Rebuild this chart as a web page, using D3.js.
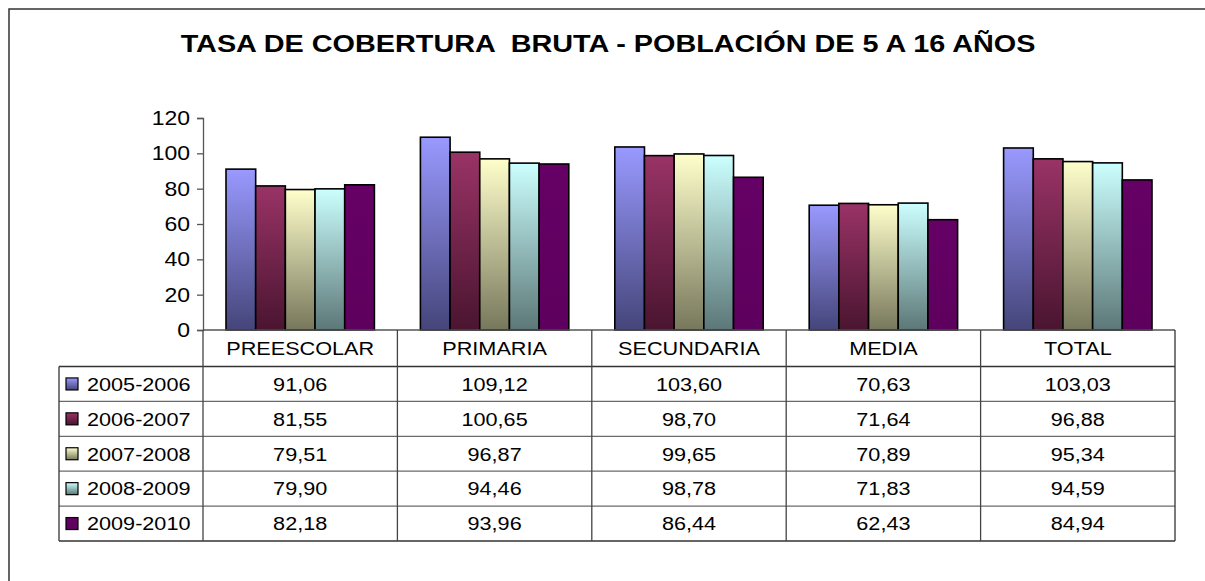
<!DOCTYPE html>
<html>
<head>
<meta charset="utf-8">
<script src="https://cdn.jsdelivr.net/npm/d3@7"></script>
<style>
  html, body { margin: 0; padding: 0; background: #fff; }
  svg { display: block; }
  text { font-family: "Liberation Sans", Arial, sans-serif; fill: #000; white-space: pre; }
</style>
</head>
<body>
<svg id="chart" width="1205" height="581"></svg>
<script>
const title = "TASA DE COBERTURA  BRUTA - POBLACIÓN DE 5 A 16 AÑOS";
const categories = ["PREESCOLAR", "PRIMARIA", "SECUNDARIA", "MEDIA", "TOTAL"];
const seriesNames = ["2005-2006", "2006-2007", "2007-2008", "2008-2009", "2009-2010"];
const s2005 = [91.06, 109.12, 103.60, 70.63, 103.03];
const s2006 = [81.55, 100.65, 98.70, 71.64, 96.88];
const s2007 = [79.51, 96.87, 99.65, 70.89, 95.34];
const s2008 = [79.90, 94.46, 98.78, 71.83, 94.59];
const s2009 = [82.18, 93.96, 86.44, 62.43, 84.94];
const seriesValues = [s2005, s2006, s2007, s2008, s2009];
const yTicks = [0, 20, 40, 60, 80, 100, 120];
const topColors = ["#9999ff", "#993366", "#ffffcc", "#ccffff", "#660066"];
const bottomColors = ["#45457a", "#4a1530", "#77775c", "#5c7777", "#5e005e"];

const svg = d3.select("#chart");
const W = 1205, H = 581;
const SX = 1.17; // horizontal stretch of text as in reference

svg.append("rect").attr("width", W).attr("height", H).attr("fill", "#fff");

// gradients
const defs = svg.append("defs");
seriesNames.forEach((s, i) => {
  const g = defs.append("linearGradient").attr("id", "grad" + i)
    .attr("x1", 0).attr("y1", 0).attr("x2", 0).attr("y2", 1);
  g.append("stop").attr("offset", "0%").attr("stop-color", topColors[i]);
  g.append("stop").attr("offset", "100%").attr("stop-color", bottomColors[i]);
});

// outer frame (only top & left visible)
svg.append("path").attr("d", `M9,${H} L9,9 L${W},9`)
  .attr("fill", "none").attr("stroke", "#333").attr("stroke-width", 1.5);

function stretchedText(sel, x, y, str, opts) {
  const t = sel.append("text")
    .attr("transform", `translate(${x},${y}) scale(${opts.sx || SX},1)`)
    .attr("text-anchor", opts.anchor || "middle")
    .attr("font-size", opts.size || 18.5)
    .attr("xml:space", "preserve")
    .text(str);
  if (opts.bold) t.attr("font-weight", "bold");
  return t;
}

// title
stretchedText(svg, 608, 52, title, { size: 24, bold: true, sx: 1.2 });

// scales
const plotLeft = 203, plotRight = 1175, plotTop = 118, plotBottom = 330;
const x = d3.scaleBand().domain(categories).range([plotLeft, plotRight]).padding(0);
const bw = x.bandwidth();
const xs = d3.scaleBand().domain(seriesNames).range([23, bw - 23]).padding(0);
const y = d3.scaleLinear().domain([0, 120]).range([plotBottom, plotTop]);

// bars
const gBars = svg.append("g");
seriesNames.forEach((s, i) => {
  gBars.selectAll(null).data(categories).enter().append("rect")
    .attr("x", (c) => x(c) + xs(s))
    .attr("y", (c, j) => y(seriesValues[i][j]))
    .attr("width", xs.bandwidth())
    .attr("height", (c, j) => y(0) - y(seriesValues[i][j]))
    .attr("fill", `url(#grad${i})`)
    .attr("stroke", "#000").attr("stroke-width", 1.6);
});

// y axis
const yAxis = d3.axisLeft(y).tickValues(yTicks).tickSize(6).tickPadding(5).tickFormat(d3.format("d"));
const gy = svg.append("g").attr("transform", `translate(${plotLeft},0)`).call(yAxis);
gy.select(".domain").attr("stroke", "#555").attr("stroke-width", 1.3);
gy.selectAll(".tick line").attr("stroke", "#555").attr("stroke-width", 1.3);
gy.selectAll(".tick text").remove();
yTicks.forEach(v => {
  stretchedText(svg, plotLeft - 13, y(v) + 7, String(v), { size: 19.5, anchor: "end", sx: 1.18 });
});

// baseline
svg.append("line").attr("x1", plotLeft).attr("x2", plotRight)
  .attr("y1", plotBottom).attr("y2", plotBottom)
  .attr("stroke", "#555").attr("stroke-width", 1.3);

// data table
const tableLeft = 59, headerTop = plotBottom, headerBottom = 366.5, tableBottom = 541;
const rows = d3.scaleBand().domain(seriesNames).range([headerBottom, tableBottom]).padding(0);
const fmt = d3.formatLocale({ decimal: ",", thousands: ".", grouping: [3], currency: ["", ""] }).format(".2f");
const gT = svg.append("g");

// horizontal lines
gT.append("line").attr("x1", tableLeft).attr("x2", plotRight)
  .attr("y1", headerBottom).attr("y2", headerBottom).attr("stroke", "#333").attr("stroke-width", 1.3);
seriesNames.slice(1).forEach(s => {
  gT.append("line").attr("x1", tableLeft).attr("x2", plotRight)
    .attr("y1", rows(s)).attr("y2", rows(s)).attr("stroke", "#6a6a6a").attr("stroke-width", 1.3);
});
gT.append("line").attr("x1", tableLeft).attr("x2", plotRight)
  .attr("y1", tableBottom).attr("y2", tableBottom).attr("stroke", "#333").attr("stroke-width", 1.3);
// vertical lines
gT.append("line").attr("x1", tableLeft).attr("x2", tableLeft)
  .attr("y1", headerBottom).attr("y2", tableBottom).attr("stroke", "#333").attr("stroke-width", 1.3);
categories.forEach(c => {
  gT.append("line").attr("x1", x(c)).attr("x2", x(c))
    .attr("y1", headerTop).attr("y2", tableBottom).attr("stroke", "#444").attr("stroke-width", 1.3);
});
gT.append("line").attr("x1", plotRight).attr("x2", plotRight)
  .attr("y1", headerTop).attr("y2", tableBottom).attr("stroke", "#333").attr("stroke-width", 1.3);

// header text
categories.forEach(c => {
  stretchedText(gT, x(c) + bw / 2, (headerTop + headerBottom) / 2 + 6.8, c, { size: 18.5 });
});
// rows
seriesNames.forEach((s, i) => {
  const cy = rows(s) + rows.bandwidth() / 2;
  gT.append("rect").attr("x", 66).attr("y", cy - 6).attr("width", 12).attr("height", 12)
    .attr("fill", `url(#grad${i})`).attr("stroke", "#000").attr("stroke-width", 1.2);
  stretchedText(gT, 87, cy + 6.8, s, { size: 18.5, anchor: "start" });
  categories.forEach((c, j) => {
    stretchedText(gT, x(c) + bw / 2, cy + 6.8, fmt(seriesValues[i][j]), { size: 18.5 });
  });
});
</script>
</body>
</html>
